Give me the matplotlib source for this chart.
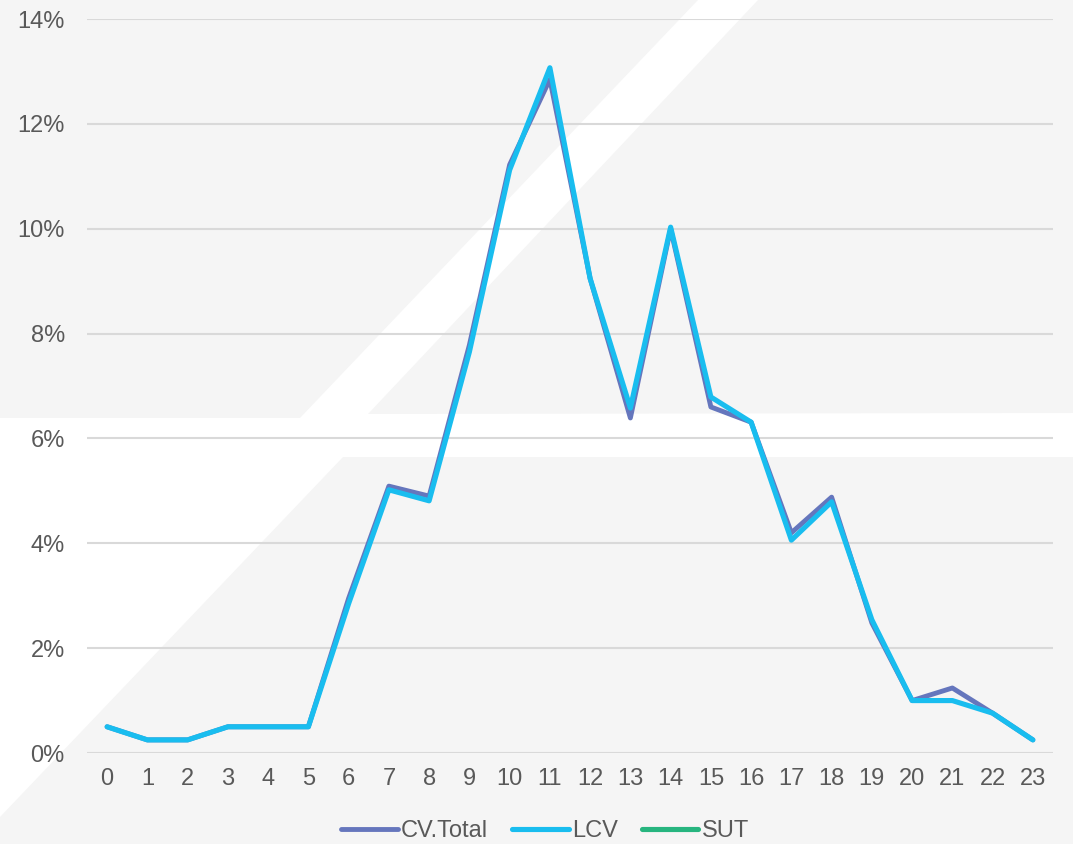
import matplotlib.pyplot as plt
from matplotlib.patches import Polygon
from matplotlib.ticker import FuncFormatter, MultipleLocator

# share of daily traffic per hour (%)
hours = list(range(24))
cv_total = [0.5, 0.25, 0.25, 0.5, 0.5, 0.5, 2.95, 5.09, 4.9, 7.78, 11.22, 12.85,
            9.05, 6.39, 10.0, 6.6, 6.31, 4.2, 4.88, 2.48, 1.0, 1.24, 0.76, 0.25]
lcv = [0.5, 0.25, 0.25, 0.5, 0.5, 0.5, 2.85, 5.02, 4.81, 7.65, 11.12, 13.07,
       9.05, 6.58, 10.03, 6.79, 6.31, 4.06, 4.79, 2.54, 1.0, 1.0, 0.76, 0.25]
sut = [float('nan')] * 24

series = [('CV.Total', cv_total, '#6576bd', 3.5),
          ('LCV', lcv, '#19bdef', 3.7),
          ('SUT', sut, '#27b57f', 3.7)]

W, H = 1073, 844
fig = plt.figure(figsize=(W / 100, H / 100), dpi=100, facecolor='white')

# light grey backdrop with white diagonal cut-outs
bg = '#f5f5f5'
shapes = [
    [(0, 0), (698, 0), (300, 418), (0, 418)],
    [(758, 0), (W, 0), (W, 413), (368, 414)],
    [(343, 457), (W, 457), (W, H), (0, H), (0, 817)],
]
for pts in shapes:
    fig.add_artist(Polygon([(x / W, 1 - y / H) for x, y in pts],
                           closed=True, transform=fig.transFigure,
                           facecolor=bg, edgecolor='none', zorder=0))

ax = fig.add_axes([87 / W, 91 / H, (1053 - 87) / W, (825 - 91) / H])
ax.set_facecolor('none')

for name, vals, color, lw in series:
    ax.plot(hours, vals, color=color, lw=lw, label=name,
            solid_joinstyle='round', solid_capstyle='round')

ax.set_xlim(-0.5, 23.5)
ax.set_ylim(0, 14)
ax.yaxis.set_major_locator(MultipleLocator(2))
ax.yaxis.set_major_formatter(FuncFormatter(lambda v, p: '{:.0f}%'.format(v)))
ax.set_xticks(hours)
ax.grid(axis='y', color='#d9d9d9', lw=1.5)
ax.set_axisbelow(True)
for s in ax.spines.values():
    s.set_visible(False)

font = 'Liberation Sans'
ax.tick_params(length=0, labelsize=17, labelcolor='#595959')
ax.tick_params(axis='y', pad=16)
ax.tick_params(axis='x', pad=11)
for lab in ax.get_xticklabels() + ax.get_yticklabels():
    lab.set_fontfamily(font)

leg = fig.legend(loc='center', bbox_to_anchor=(545 / W, 1 - 831 / H), ncol=3,
                 frameon=False, handlelength=2.4, handletextpad=0.15,
                 columnspacing=1.0, prop={'family': font, 'size': 17})
for t in leg.get_texts():
    t.set_color('#595959')

fig.savefig('out.png', dpi=100, facecolor=fig.get_facecolor())
